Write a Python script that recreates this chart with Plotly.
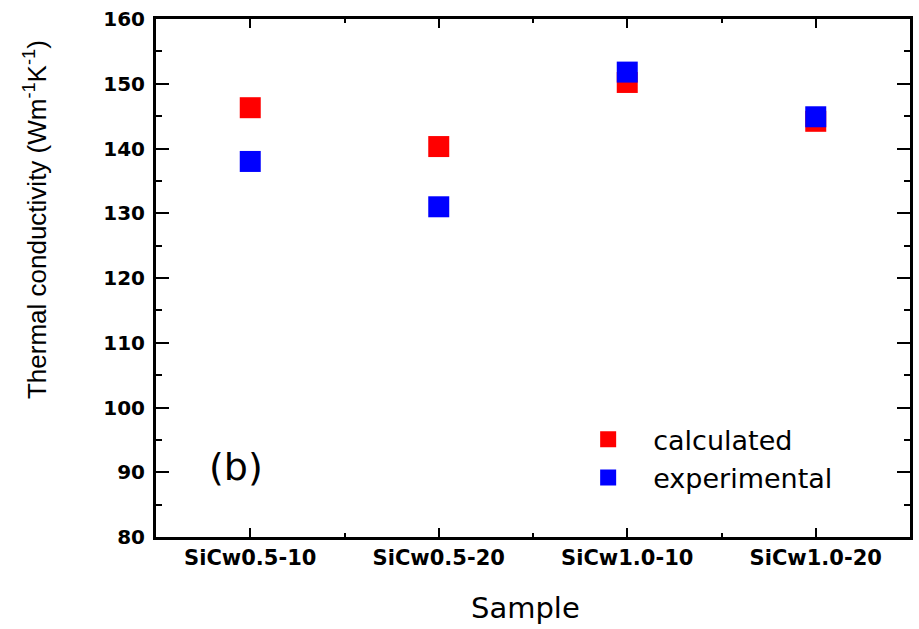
import plotly.graph_objects as go

categories = ["SiCw0.5-10", "SiCw0.5-20", "SiCw1.0-10", "SiCw1.0-20"]
calculated = [146.3, 140.3, 150.2, 144.2]
experimental = [138.0, 131.0, 151.8, 144.9]
y_ticks = [80, 90, 100, 110, 120, 130, 140, 150, 160]

xpos = list(range(1, len(categories) + 1))

fig = go.Figure()
fig.add_trace(go.Scatter(x=xpos, y=calculated, mode="markers", name="calculated",
                         marker=dict(symbol="square", size=21, color="#ff0000", line=dict(width=0))))
fig.add_trace(go.Scatter(x=xpos, y=experimental, mode="markers", name="experimental",
                         marker=dict(symbol="square", size=21, color="#0000ff", line=dict(width=0))))

fig.update_layout(
    width=919, height=629,
    margin=dict(l=156, r=9, t=19, b=92, autoexpand=False),
    plot_bgcolor="white", paper_bgcolor="white",
    showlegend=True,
    legend=dict(x=0.54, y=0.235, xanchor="left", yanchor="top",
                font=dict(family="DejaVu Sans", size=27, color="black"),
                bgcolor="rgba(0,0,0,0)", itemsizing="trace", itemwidth=80, tracegroupgap=0),
    xaxis=dict(range=[0.5, 4.5], tickmode="array", tickvals=xpos, ticktext=categories,
               automargin=False,
               showline=True, linecolor="black", linewidth=3, mirror="ticks",
               ticks="inside", ticklen=9, tickwidth=2, tickcolor="black",
               tickfont=dict(family="DejaVu Sans", size=21, color="black", weight="bold"),
               showgrid=False, zeroline=False,
               minor=dict(tickmode="array", tickvals=[1.5, 2.5, 3.5], ticks="inside",
                          ticklen=4, tickwidth=2, tickcolor="black", showgrid=False)),
    yaxis=dict(range=[80, 160], tickmode="array", tickvals=y_ticks,
               automargin=False,
               showline=True, linecolor="black", linewidth=3, mirror="ticks",
               ticks="inside", ticklen=13, tickwidth=2, tickcolor="black",
               tickfont=dict(family="DejaVu Sans", size=20, color="black", weight="bold"),
               ticklabelstandoff=4,
               showgrid=False, zeroline=False,
               minor=dict(dtick=5, tick0=80, ticks="inside", ticklen=6, tickwidth=2,
                          tickcolor="black", showgrid=False)),
)

fig.add_annotation(text="Thermal conductivity (Wm<sup>-1</sup>K<sup>-1</sup>)",
                   xref="paper", yref="paper", x=-0.16, y=(537 - 220) / 517.5,
                   xanchor="center", yanchor="middle", textangle=-90, showarrow=False,
                   font=dict(family="Liberation Sans", size=26, color="black"))
fig.add_annotation(text="Sample", xref="paper", yref="paper",
                   x=(525 - 156) / 754, y=-(608 - 537) / 517.5,
                   xanchor="center", yanchor="middle", showarrow=False,
                   font=dict(family="DejaVu Sans", size=29, color="black"))
fig.add_annotation(text="(b)", xref="paper", yref="paper",
                   x=(236 - 156) / 754, y=(537 - 467) / 517.5,
                   xanchor="center", yanchor="middle", showarrow=False,
                   font=dict(family="DejaVu Sans", size=38, color="black"))

fig.write_html("out.html", config={"displayModeBar": False},
               post_script="document.body.style.margin='0';")
